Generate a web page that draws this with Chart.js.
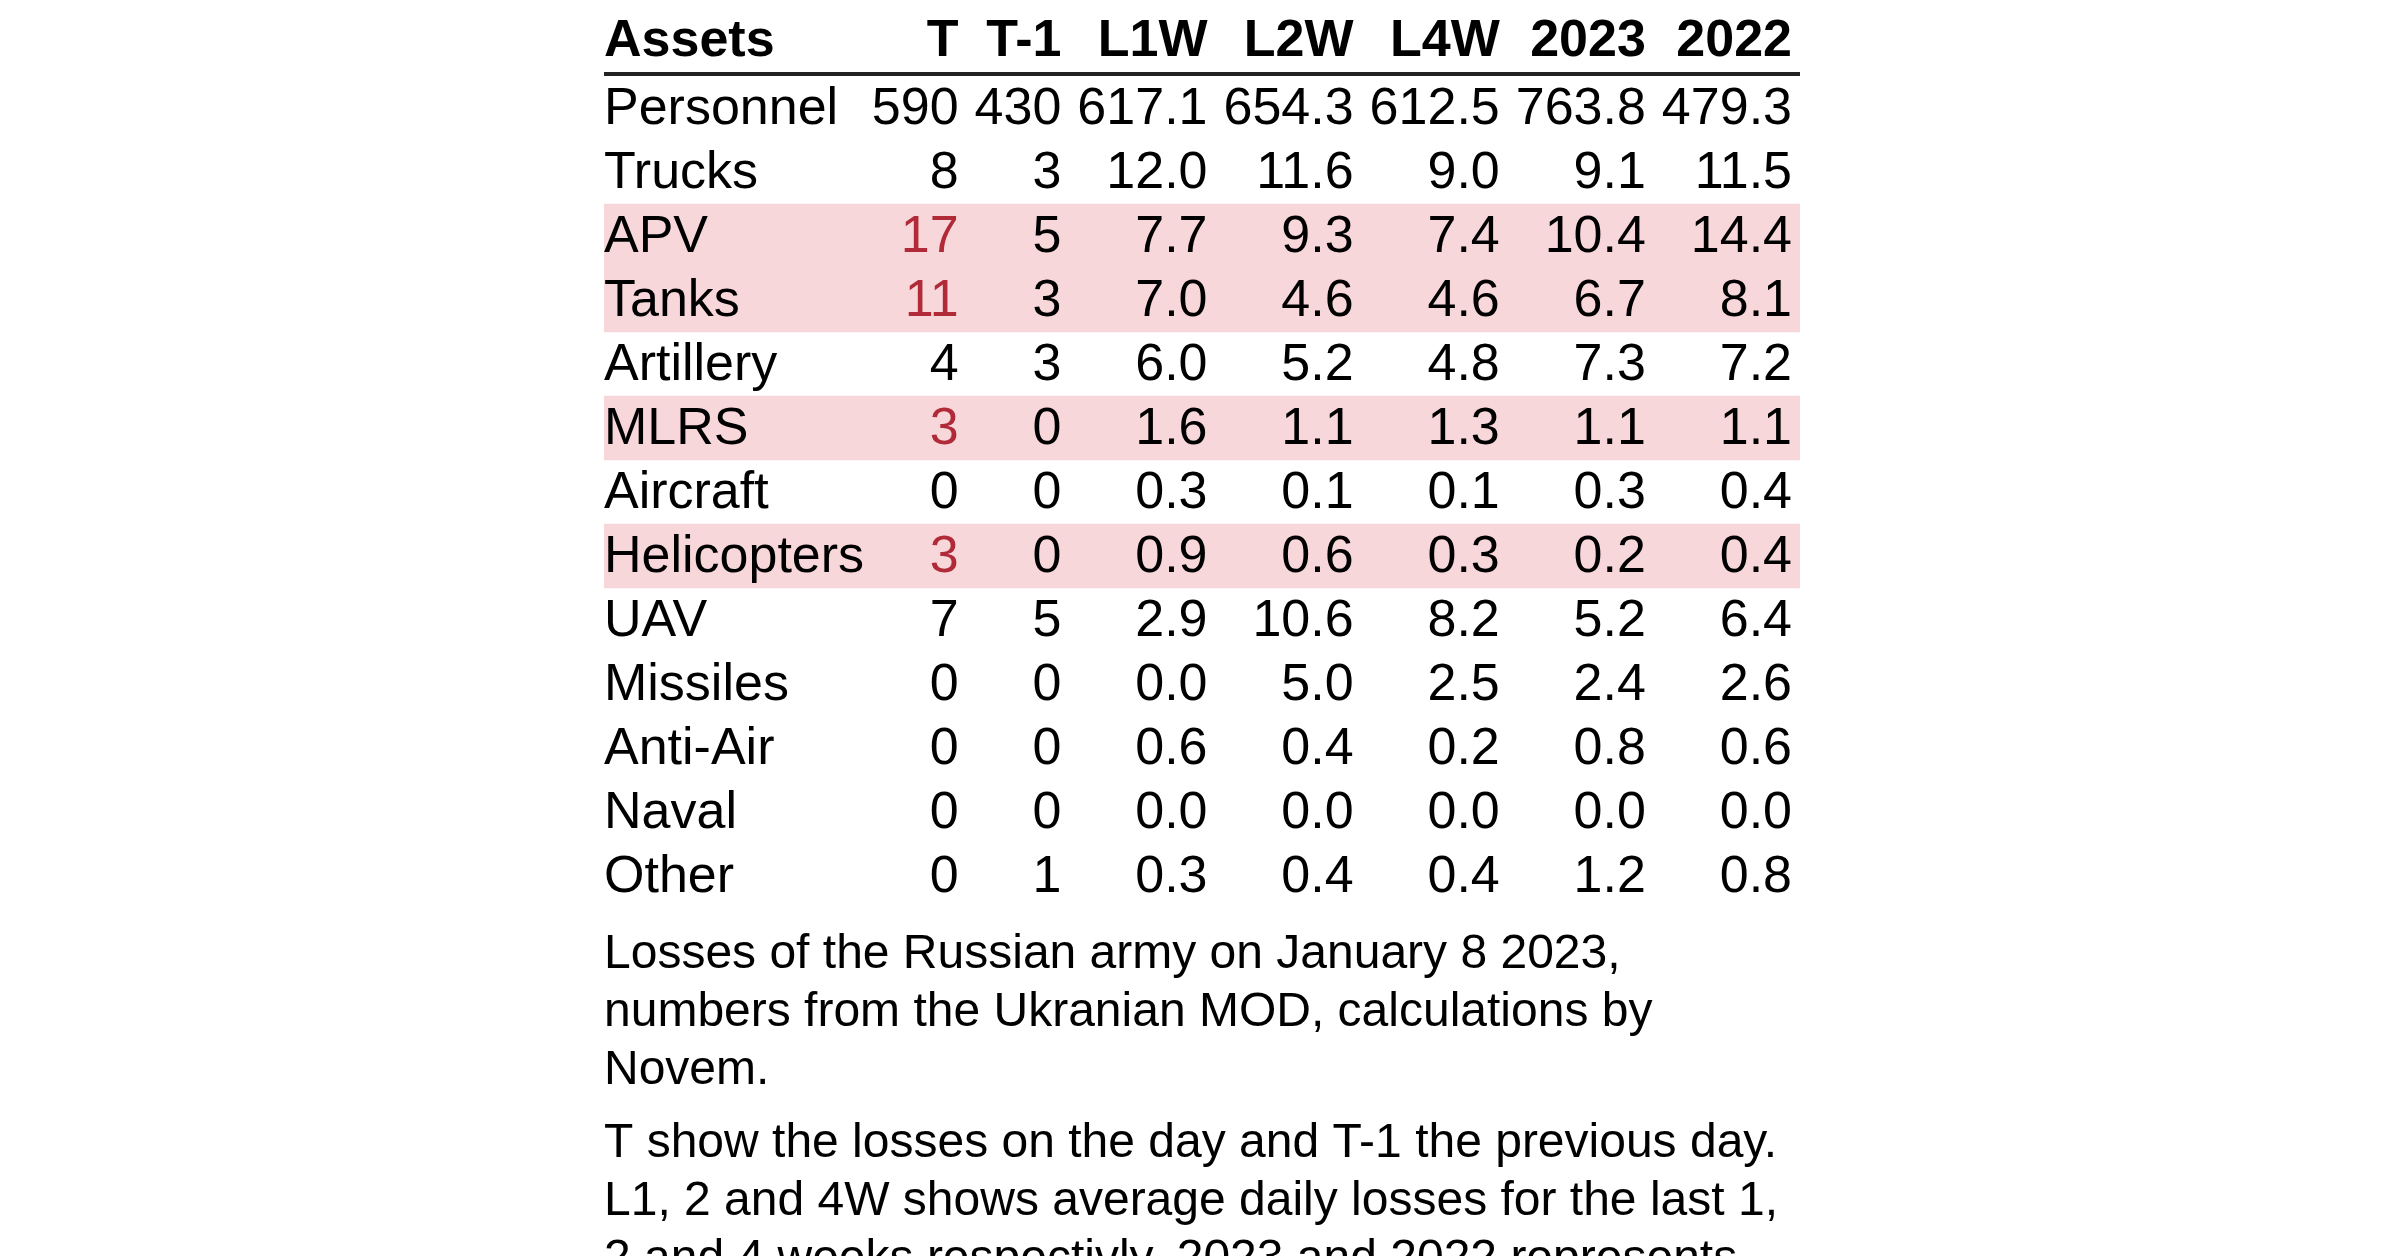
<!DOCTYPE html>
<html>
<head>
<meta charset="utf-8">
<title>Russian army losses</title>
<script src="https://cdn.jsdelivr.net/npm/chart.js@4/dist/chart.umd.min.js"></script>
<style>
    html, body { margin: 0; padding: 0; background: #ffffff; }
    canvas { display: block; }
</style>
</head>
<body>
<canvas id="chart" width="2400" height="1256"></canvas>
<script>
// DATA

let assets = ['Personnel', 'Trucks', 'APV', 'Tanks', 'Artillery', 'MLRS', 'Aircraft',
    'Helicopters', 'UAV', 'Missiles', 'Anti-Air', 'Naval', 'Other'];

let columns = ['T', 'T-1', 'L1W', 'L2W', 'L4W', '2023', '2022'];

let lossesT = [590, 8, 17, 11, 4, 3, 0, 3, 7, 0, 0, 0, 0];
let lossesT1 = [430, 3, 5, 3, 3, 0, 0, 0, 5, 0, 0, 0, 1];
let avgL1W = [617.1, 12.0, 7.7, 7.0, 6.0, 1.6, 0.3, 0.9, 2.9, 0.0, 0.6, 0.0, 0.3];
let avgL2W = [654.3, 11.6, 9.3, 4.6, 5.2, 1.1, 0.1, 0.6, 10.6, 5.0, 0.4, 0.0, 0.4];
let avgL4W = [612.5, 9.0, 7.4, 4.6, 4.8, 1.3, 0.1, 0.3, 8.2, 2.5, 0.2, 0.0, 0.4];
let avg2023 = [763.8, 9.1, 10.4, 6.7, 7.3, 1.1, 0.3, 0.2, 5.2, 2.4, 0.8, 0.0, 1.2];
let avg2022 = [479.3, 11.5, 14.4, 8.1, 7.2, 1.1, 0.4, 0.4, 6.4, 2.6, 0.6, 0.0, 0.8];

// rows where today's losses stand out
let highlighted = ['APV', 'Tanks', 'MLRS', 'Helicopters'];

let captionLines = [
    ['Losses of the Russian army on January 8 2023,',
     'numbers from the Ukranian MOD, calculations by',
     'Novem.'],
    ['T show the losses on the day and T-1 the previous day.',
     'L1, 2 and 4W shows average daily losses for the last 1,',
     '2 and 4 weeks respectivly. 2023 and 2022 represents']
];

// STYLE

const FONT = '"Liberation Sans", Arial, Helvetica, sans-serif';
const BAND = '#f8d7da';
const RED = '#b02a37';
const INK = '#000000';

let formatCell = function (col, v) {
    if (col < 2) {
        return String(v);
    }
    return v.toFixed(1);
}

let tableColumns = [lossesT, lossesT1, avgL1W, avgL2W, avgL4W, avg2023, avg2022];

let tablePlugin = {
    id: 'tableText',
    afterDatasetsDraw: function (chart) {
        let ctx = chart.ctx;
        let area = chart.chartArea;
        let yScale = chart.scales.y;
        let pad = 8;

        ctx.save();

        // column widths from the widest text in each column, laid out from the right
        let rights = [];
        let right = area.right - pad;
        for (let c = columns.length - 1; c >= 0; c--) {
            ctx.font = 'bold 52px ' + FONT;
            let w = ctx.measureText(columns[c]).width;
            ctx.font = '52px ' + FONT;
            for (let r = 0; r < assets.length; r++) {
                w = Math.max(w, ctx.measureText(formatCell(c, tableColumns[c][r])).width);
            }
            rights[c] = right;
            right -= w + 2 * pad;
        }

        // header
        ctx.fillStyle = INK;
        ctx.font = 'bold 52px ' + FONT;
        ctx.textBaseline = 'alphabetic';
        ctx.textAlign = 'left';
        ctx.fillText('Assets', area.left, area.top - 20);
        ctx.textAlign = 'right';
        for (let c = 0; c < columns.length; c++) {
            ctx.fillText(columns[c], rights[c], area.top - 20);
        }

        ctx.strokeStyle = '#222222';
        ctx.lineWidth = 4;
        ctx.beginPath();
        ctx.moveTo(area.left, area.top - 2);
        ctx.lineTo(area.right, area.top - 2);
        ctx.stroke();

        // body
        ctx.font = '52px ' + FONT;
        for (let r = 0; r < assets.length; r++) {
            let y = yScale.getPixelForValue(r) + 16;
            ctx.fillStyle = INK;
            ctx.textAlign = 'left';
            ctx.fillText(assets[r], area.left, y);
            ctx.textAlign = 'right';
            for (let c = 0; c < columns.length; c++) {
                let red = c === 0 && highlighted.includes(assets[r]);
                ctx.fillStyle = red ? RED : INK;
                ctx.fillText(formatCell(c, tableColumns[c][r]), rights[c], y);
            }
        }

        // caption under the table
        ctx.fillStyle = INK;
        ctx.textAlign = 'left';
        ctx.font = '48px ' + FONT;
        let y = area.bottom + 60;
        for (let p = 0; p < captionLines.length; p++) {
            for (let line of captionLines[p]) {
                ctx.fillText(line, area.left, y);
                y += 58;
            }
            y += 15;
        }

        ctx.restore();
    }
};

let createTable = function () {
    let bands = assets.map(a => highlighted.includes(a) ? [0, 1] : null);

    const ctx = document.getElementById('chart');

    new Chart(ctx, {
        type: 'bar',
        data: {
            labels: assets,
            datasets: [
            {
                label: 'highlight',
                data: bands,
                backgroundColor: BAND,
                borderWidth: 0,
                barPercentage: 1,
                categoryPercentage: 1
            }
        ]
        },
        options: {
            indexAxis: 'y',
            responsive: false,
            devicePixelRatio: 1,
            animation: false,
            layout: {
                padding: { left: 604, right: 600, top: 76, bottom: 348 }
            },
            plugins: {
                legend: { display: false },
                tooltip: { enabled: false }
            },
            scales: {
                x: { type: 'linear', min: 0, max: 1, display: false },
                y: { type: 'category', display: false, offset: true }
            }
        },
        plugins: [tablePlugin]
    });
}
createTable();
</script>
</body>
</html>
